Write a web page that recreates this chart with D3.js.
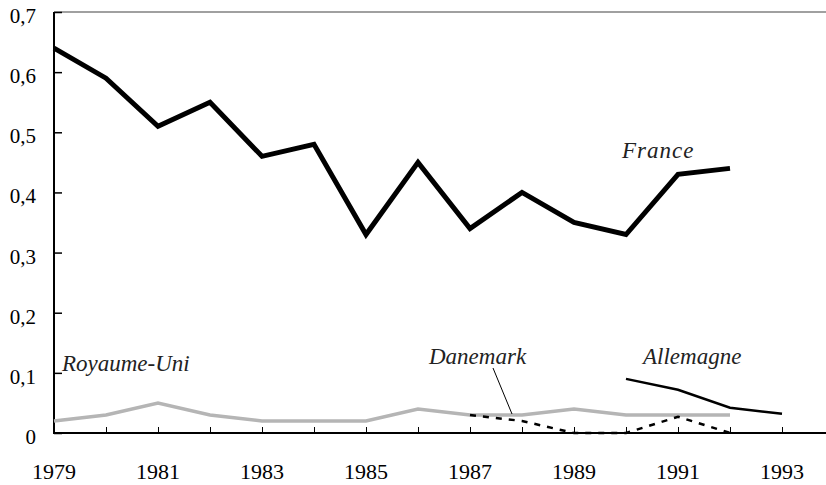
<!DOCTYPE html>
<html><head><meta charset="utf-8">
<script src="https://cdn.jsdelivr.net/npm/d3@7"></script>
</head><body style="margin:0">
<svg id="c" width="826" height="485"></svg>
<script>
const years = [1979,1980,1981,1982,1983,1984,1985,1986,1987,1988,1989,1990,1991,1992,1993];
const yTicks = [0,0.1,0.2,0.3,0.4,0.5,0.6,0.7];
const yTickLabels = ["0","0,1","0,2","0,3","0,4","0,5","0,6","0,7"];
const xTickLabels = [1979,1981,1983,1985,1987,1989,1991,1993];
const franceYears = [1979,1980,1981,1982,1983,1984,1985,1986,1987,1988,1989,1990,1991,1992];
const franceValues = [0.64,0.59,0.51,0.55,0.46,0.48,0.33,0.45,0.34,0.40,0.35,0.33,0.43,0.44];
const ukYears = [1979,1980,1981,1982,1983,1984,1985,1986,1987,1988,1989,1990,1991,1992];
const ukValues = [0.02,0.03,0.05,0.03,0.02,0.02,0.02,0.04,0.03,0.03,0.04,0.03,0.03,0.03];
const dkYears = [1987,1988,1989,1990,1991,1992];
const dkValues = [0.03,0.02,0.0,0.0,0.027,0.0];
const deYears = [1990,1991,1992,1993];
const deValues = [0.09,0.072,0.042,0.032];

const svg = d3.select("#c");
const x = d3.scaleLinear().domain([1979,1993]).range([54,782]);
const y = d3.scaleLinear().domain([0,0.7]).range([433,12]);
const FONT = "Liberation Serif";

svg.append("line").attr("x1",x(1979)).attr("x2",826).attr("y1",y(0.7)).attr("y2",y(0.7))
  .attr("stroke","#808080").attr("stroke-width",1.7);

const yAxis = d3.axisRight(y).tickValues(yTicks).tickSize(8).tickFormat("");
const gy = svg.append("g").attr("transform",`translate(${x(1979)},0)`).call(yAxis);
gy.select(".domain").remove();
gy.selectAll(".tick line").attr("stroke","#000").attr("stroke-width",1.5);
svg.append("line").attr("x1",x(1979)).attr("x2",x(1979)).attr("y1",y(0.7)).attr("y2",y(0)+1)
  .attr("stroke","#000").attr("stroke-width",2);

const xAxis = d3.axisTop(x).tickValues(years).tickSize(6).tickFormat("");
const gx = svg.append("g").attr("transform",`translate(0,${y(0)})`).call(xAxis);
gx.select(".domain").remove();
gx.selectAll(".tick line").attr("stroke","#000").attr("stroke-width",1);
svg.append("line").attr("x1",x(1979)-1).attr("x2",826).attr("y1",y(0)).attr("y2",y(0))
  .attr("stroke","#000").attr("stroke-width",2);

svg.selectAll("text.yl").data(yTicks).join("text").attr("class","yl")
  .attr("x",36).attr("y",d=>y(d)+11).attr("text-anchor","end")
  .attr("font-family",FONT).attr("font-size",21).attr("fill","#000")
  .text((d,i)=>yTickLabels[i]);
svg.selectAll("text.xl").data(xTickLabels).join("text").attr("class","xl")
  .attr("x",d=>x(d)).attr("y",479).attr("text-anchor","middle")
  .attr("font-family",FONT).attr("font-size",22).attr("fill","#000")
  .text(d=>d);

const line = d3.line().x(d=>x(d[0])).y(d=>y(d[1]));
const zip = (a,b)=>a.map((v,i)=>[v,b[i]]);

svg.append("path").datum(zip(ukYears,ukValues)).attr("d",line).attr("fill","none")
  .attr("stroke","#b5b5b5").attr("stroke-width",3.5);
svg.append("path").datum(zip(dkYears,dkValues)).attr("d",line).attr("fill","none")
  .attr("stroke","#000").attr("stroke-width",2.5).attr("stroke-dasharray","6,7");
svg.append("path").datum(zip(deYears,deValues)).attr("d",line).attr("fill","none")
  .attr("stroke","#000").attr("stroke-width",2.5);
svg.append("path").datum(zip(franceYears,franceValues)).attr("d",line).attr("fill","none")
  .attr("stroke","#000").attr("stroke-width",5).attr("stroke-linejoin","miter");

const labels = ["France","Royaume-Uni","Danemark","Allemagne"];
const labelX = [622,62,429,643];
const labelY = [158,371,364,364];
svg.selectAll("text.lab").data(labels).join("text").attr("class","lab")
  .attr("x",(d,i)=>labelX[i]).attr("y",(d,i)=>labelY[i])
  .attr("font-family",FONT).attr("font-style","italic").attr("font-size",23)
  .attr("letter-spacing",(d,i)=>i===0?1:0)
  .attr("fill","#222").text(d=>d);
svg.append("line").attr("x1",493).attr("y1",368).attr("x2",512).attr("y2",414)
  .attr("stroke","#000").attr("stroke-width",1);
</script>
</body></html>
